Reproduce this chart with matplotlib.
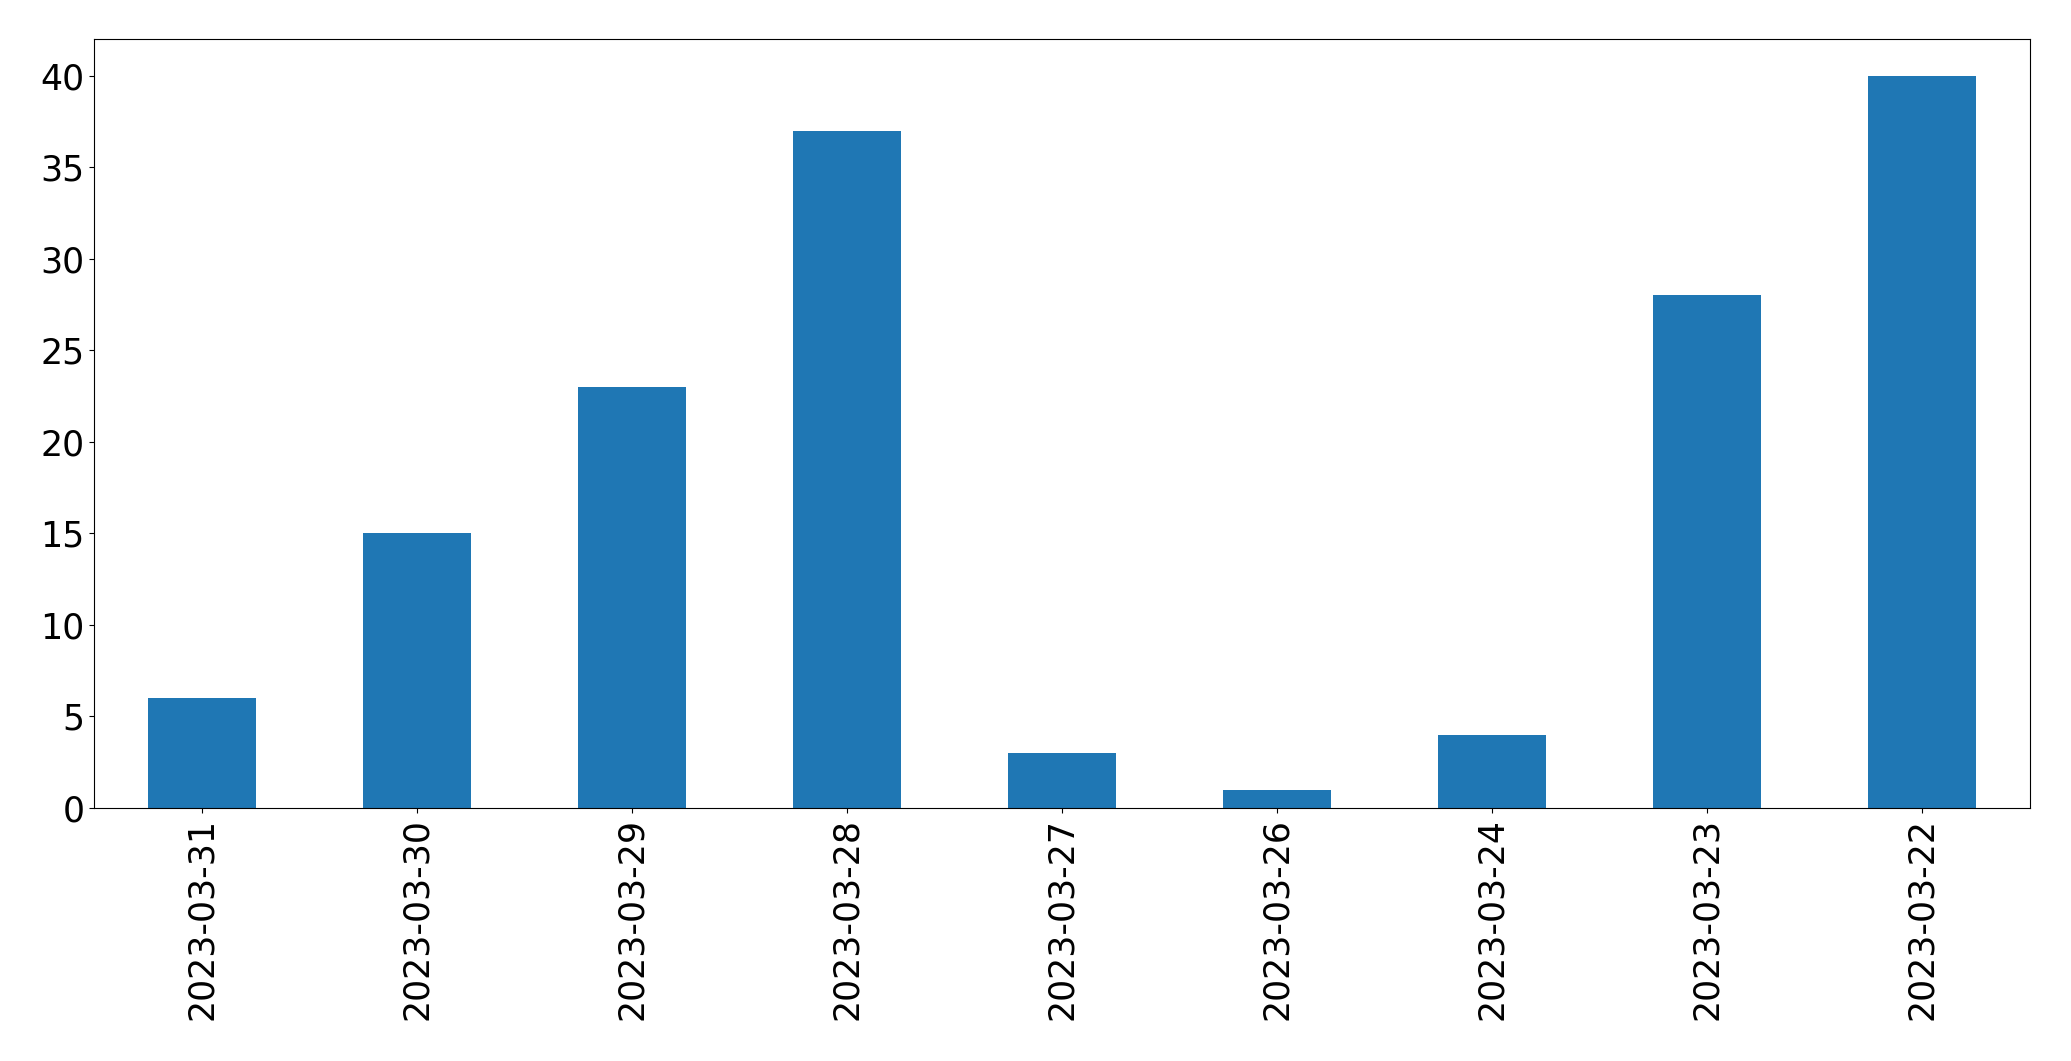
import matplotlib
matplotlib.use("Agg")
import matplotlib.pyplot as plt

dates = ["2023-03-31", "2023-03-30", "2023-03-29", "2023-03-28", "2023-03-27",
         "2023-03-26", "2023-03-24", "2023-03-23", "2023-03-22"]
counts = [6, 15, 23, 37, 3, 1, 4, 28, 40]

fig = plt.figure(figsize=(20.71, 10.61), dpi=100)
ax = fig.add_axes([0.0455, 0.2385, 0.9345, 0.7245])
x = list(range(len(dates)))
ax.bar(x, counts, width=0.5, color="#1f77b4")
ax.set_xlim(-0.5, len(dates) - 0.5)
ax.set_ylim(0, 42)
ax.set_xticks(x)
ax.set_xticklabels(dates, rotation=90)
ax.tick_params(axis="both", labelsize=25)
fig.savefig("out.png", dpi=100)
